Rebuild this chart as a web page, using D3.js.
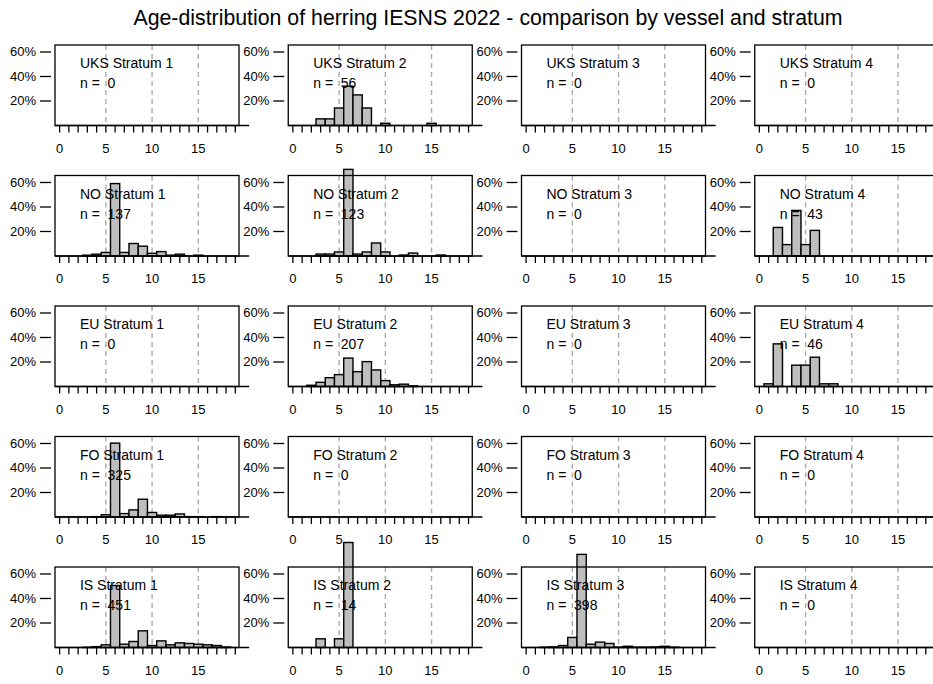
<!DOCTYPE html>
<html>
<head>
<meta charset="utf-8">
<script src="https://cdn.jsdelivr.net/npm/d3@7"></script>
<style>
  body { margin: 0; background: #fff; }
  svg { display: block; font-family: "Liberation Sans", Arial, sans-serif; }
</style>
</head>
<body>
<svg id="chart" width="933" height="684"></svg>
<script>
// Age-distribution data (percent of fish by age)
const vessels = ["UKS", "NO", "EU", "FO", "IS"];
const strata = [1, 2, 3, 4];
const ages = [0, 1, 2, 3, 4, 5, 6, 7, 8, 9, 10, 11, 12, 13, 14, 15, 16, 17, 18, 19];

// sample sizes, one row per vessel, one column per stratum
const sampleSizes = [
    [0, 56, 0, 0],
    [137, 123, 0, 43],
    [0, 207, 0, 46],
    [325, 0, 0, 0],
    [451, 14, 398, 0]
];

// percent by age 0..19, only for panels with fish
const uksStratum2 = [0, 0, 0, 5.4, 5.4, 14.3, 32.1, 25.0, 14.3, 0, 1.8, 0, 0, 0, 0, 1.8, 0, 0, 0, 0];
const noStratum1 = [0, 0, 0, 0.7, 1.5, 2.9, 59.1, 2.9, 10.2, 8.0, 2.2, 3.6, 0.7, 1.5, 0, 0.7, 0, 0, 0, 0];
const noStratum2 = [0, 0, 0, 1.6, 1.6, 3.3, 70.7, 1.6, 3.3, 10.6, 3.3, 0, 0.8, 2.4, 0, 0, 0.8, 0, 0, 0];
const noStratum4 = [0, 0, 23.3, 9.3, 37.2, 9.3, 20.9, 0, 0, 0, 0, 0, 0, 0, 0, 0, 0, 0, 0, 0];
const euStratum2 = [0, 0, 1.0, 3.4, 7.2, 9.7, 23.2, 12.1, 20.3, 13.5, 4.8, 1.4, 1.9, 0.5, 0, 0, 0, 0, 0, 0];
const euStratum4 = [0, 2.2, 34.8, 0, 17.4, 17.4, 23.9, 2.2, 2.2, 0, 0, 0, 0, 0, 0, 0, 0, 0, 0, 0];
const foStratum1 = [0, 0, 0, 0, 0.3, 1.8, 60.3, 2.8, 5.8, 14.5, 3.7, 1.5, 1.5, 2.5, 0.3, 0.3, 0, 0.3, 0, 0];
const isStratum1 = [0, 0, 0, 0.2, 0.7, 2.2, 50.6, 2.7, 4.9, 13.6, 1.6, 5.4, 2.2, 3.8, 3.3, 2.7, 2.2, 1.6, 0.4, 0];
const isStratum2 = [0, 0, 0, 7.1, 0, 7.1, 85.7, 0, 0, 0, 0, 0, 0, 0, 0, 0, 0, 0, 0, 0];
const isStratum3 = [0, 0, 0.3, 0.5, 1.6, 8.2, 76.0, 2.7, 4.4, 3.3, 0.3, 1.0, 0.3, 0.3, 0.5, 1.0, 0.3, 0, 0, 0];

const xTicks = ages;
const xLabels = [0, 5, 10, 15];
const yTicks = [20, 40, 60];
const refLines = [5, 10, 15];

const panelData = {
    "UKS 2": uksStratum2,
    "NO 1": noStratum1,
    "NO 2": noStratum2,
    "NO 4": noStratum4,
    "EU 2": euStratum2,
    "EU 4": euStratum4,
    "FO 1": foStratum1,
    "IS 1": isStratum1,
    "IS 2": isStratum2,
    "IS 3": isStratum3
};

const svg = d3.select("#chart");

svg.append("text")
    .attr("x", 488)
    .attr("y", 25)
    .attr("text-anchor", "middle")
    .attr("font-size", 21.3)
    .text("Age-distribution of herring IESNS 2022 - comparison by vessel and stratum");

// panel geometry
const colStep = 233.25, rowStep = 130.5;
const boxLeft = 55, boxTop = 45;
const boxW = 184, boxH = 80.5;

const x = d3.scaleLinear().domain([-0.5, 19.4]).range([0, boxW]);
const y = d3.scaleLinear().domain([0, 65.7]).range([boxH, 0]);

function drawPanel(vessel, vi, stratum, si) {
    const g = svg.append("g")
        .attr("transform", `translate(${boxLeft + si * colStep},${boxTop + vi * rowStep})`);
    const values = panelData[`${vessel} ${stratum}`] || [];

    // dashed reference lines
    g.selectAll(".ref")
        .data(refLines)
        .enter().append("line")
            .attr("x1", d => x(d)).attr("x2", d => x(d))
            .attr("y1", 0).attr("y2", boxH)
            .attr("stroke", "#ababab")
            .attr("stroke-width", 1.4)
            .attr("stroke-dasharray", "5,4");

    // bars
    g.selectAll(".bar")
        .data(values.map((v, i) => ({age: ages[i], v: v})).filter(d => d.v > 0))
        .enter().append("rect")
            .attr("x", d => x(d.age - 0.5))
            .attr("y", d => y(d.v))
            .attr("width", x(1) - x(0))
            .attr("height", d => y(0) - y(d.v))
            .attr("fill", "#bebebe")
            .attr("stroke", "#000")
            .attr("stroke-width", 1.4);

    // box
    g.append("rect")
        .attr("width", boxW).attr("height", boxH)
        .attr("fill", "none")
        .attr("stroke", "#000")
        .attr("stroke-width", 1.3);

    // baseline running past the box
    g.append("line")
        .attr("x1", x(-0.5)).attr("x2", x(20.5))
        .attr("y1", boxH).attr("y2", boxH)
        .attr("stroke", "#000").attr("stroke-width", 1.3);

    // x axis ticks
    g.selectAll(".xtick")
        .data(xTicks)
        .enter().append("line")
            .attr("x1", d => x(d)).attr("x2", d => x(d))
            .attr("y1", boxH).attr("y2", boxH + 7)
            .attr("stroke", "#000").attr("stroke-width", 1.3);

    g.selectAll(".xlab")
        .data(xLabels)
        .enter().append("text")
            .attr("x", d => x(d))
            .attr("y", boxH + 27)
            .attr("text-anchor", "middle")
            .attr("font-size", 13)
            .text(d => d);

    // y axis ticks (floating, no axis line)
    g.selectAll(".ytick")
        .data(yTicks)
        .enter().append("line")
            .attr("x1", -15).attr("x2", -4)
            .attr("y1", d => y(d)).attr("y2", d => y(d))
            .attr("stroke", "#000").attr("stroke-width", 1.3);

    g.selectAll(".ylab")
        .data(yTicks)
        .enter().append("text")
            .attr("x", -19)
            .attr("y", d => y(d) + 4.5)
            .attr("text-anchor", "end")
            .attr("font-size", 13)
            .text(d => d + "%");

    // panel labels
    g.append("text")
        .attr("x", x(2.2))
        .attr("y", y(51) + 5)
        .attr("font-size", 14)
        .text(`${vessel} Stratum ${stratum}`);

    g.append("text")
        .attr("x", x(2.2))
        .attr("y", y(34.5) + 5)
        .attr("font-size", 14)
        .style("white-space", "pre")
        .text("n =  " + sampleSizes[vi][si]);
}

vessels.forEach((vessel, vi) => {
    strata.forEach((stratum, si) => drawPanel(vessel, vi, stratum, si));
});
</script>
</body>
</html>
